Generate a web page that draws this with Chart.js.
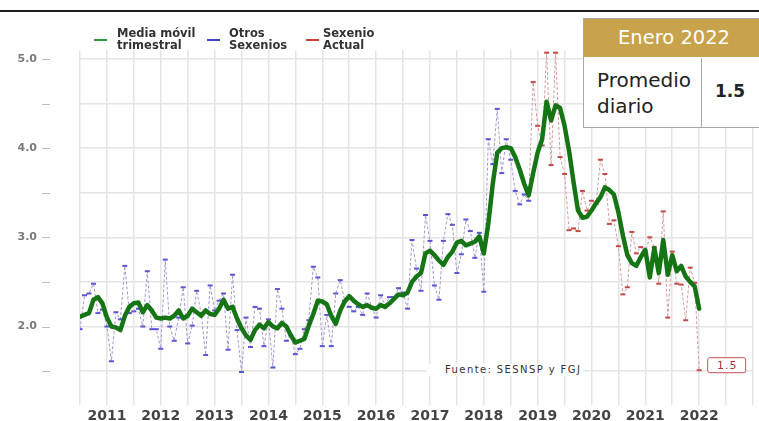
<!DOCTYPE html>
<html>
<head>
  <meta charset="UTF-8" />
  <title>Promedio diario</title>
  <script src="https://cdn.jsdelivr.net/npm/chart.js"></script>
  <style>
    body { margin: 0; background: #fff; font-family: "DejaVu Sans", sans-serif; }
    #wrap { position: relative; width: 759px; height: 421px; overflow: hidden; }
    .topline { position: absolute; left: 0; top: 10px; width: 759px; height: 2px; background: #1e1e1e; }
    .leg { position: absolute; top: 27px; font-weight: bold; font-size: 11.5px; line-height: 12px; color: #333; }
    .sw { position: absolute; top: 39px; width: 13px; height: 2px; }
    .box { position: absolute; left: 583px; top: 18px; width: 200px; height: 108px; border: 1px solid #a8a8a8; background: #fff; }
    .box .head { height: 38px; background: #c9a24c; color: #fff; font-size: 19.5px; line-height: 38px; padding-left: 34px; }
    .box .lab { position: absolute; left: 0; top: 39px; width: 118px; height: 69px; border-right: 1px solid #a8a8a8;
                font-size: 20px; line-height: 26px; color: #222; padding: 9px 0 0 13px; box-sizing: border-box; }
    .box .val { position: absolute; left: 131px; top: 62px; font-size: 17px; font-weight: bold; color: #222; }
    .fuente { position: absolute; left: 427px; top: 364px; width: 156px; height: 12px; background: #fff;
              font-size: 10px; line-height: 12px; color: #333; padding-left: 18px; box-sizing: border-box; letter-spacing: 1.4px; }
  </style>
</head>
<body>
<div id="wrap">
  <canvas id="chart" width="759" height="421"></canvas>
  <div class="topline"></div>

  <!-- legend -->
  <div class="sw" style="left:94px;background:#2f9a35"></div>
  <div class="leg" style="left:117px">Media móvil<br>trimestral</div>
  <div class="sw" style="left:207px;background:#3a45c8"></div>
  <div class="leg" style="left:229px">Otros<br>Sexenios</div>
  <div class="sw" style="left:306px;background:#d03a3a"></div>
  <div class="leg" style="left:323px">Sexenio<br>Actual</div>

  <!-- recuadro -->
  <div class="box">
    <div class="head">Enero 2022</div>
    <div class="lab">Promedio<br>diario</div>
    <div class="val">1.5</div>
  </div>

  <div class="fuente">Fuente: SESNSP y FGJ</div>
</div>

<script>
// meses desde julio 2010 (indice 0) hasta enero 2022 (indice 138)
const years = ['2011', '2012', '2013', '2014', '2015', '2016', '2017', '2018', '2019', '2020', '2021', '2022'];
const sexenioStart = 101; // diciembre 2018

const promedioDiario = [
  1.97, 2.35, 2.37, 2.48, 2.15, 2.19, 2.00, 1.61, 2.16, 2.08, 2.68, 2.15,
  2.17, 2.20, 2.00, 2.62, 1.97, 1.97, 1.75, 2.75, 2.00, 1.84, 2.10, 2.44,
  1.81, 2.01, 2.40, 2.15, 1.68, 2.46, 2.18, 2.29, 2.37, 1.74, 2.58, 1.96,
  1.49, 2.10, 1.77, 2.22, 2.20, 1.78, 2.08, 1.54, 2.42, 2.20, 1.84, 1.90,
  1.69, 1.75, 1.97, 2.07, 2.67, 2.55, 1.78, 2.13, 1.78, 2.37, 2.52, 2.29,
  2.22, 2.17, 2.22, 2.13, 2.37, 2.22, 2.10, 2.35, 2.24, 2.33, 2.33, 2.43,
  2.38, 2.20, 2.97, 2.65, 2.40, 3.25, 2.96, 2.46, 2.30, 2.96, 3.26, 3.14,
  2.60, 2.81, 3.20, 3.07, 2.77, 3.05, 2.39, 4.10, 3.82, 4.44, 3.72, 4.10,
  3.87, 3.52, 3.37, 3.48, 3.41, 4.74, 4.25, 4.03, 5.07, 3.81, 5.07, 3.90,
  3.71, 3.08, 3.10, 3.07, 3.52, 3.30, 3.41, 3.37, 3.87, 3.71, 3.15, 3.19,
  2.90, 2.36, 2.44, 3.06, 2.82, 2.89, 2.83, 3.00, 2.89, 2.48, 3.29, 2.10,
  2.84, 2.48, 2.47, 2.07, 2.66, 2.49, 1.51
];

const mediaMovil = [
  2.11, 2.13, 2.15, 2.30, 2.33, 2.26, 2.10, 2.00, 1.99, 1.96, 2.12, 2.22,
  2.26, 2.27, 2.16, 2.24, 2.18, 2.10, 2.09, 2.10, 2.09, 2.12, 2.18, 2.09,
  2.12, 2.20, 2.16, 2.12, 2.18, 2.14, 2.13, 2.20, 2.30, 2.20, 2.22, 2.09,
  1.98, 1.90, 1.85, 1.96, 2.02, 1.98, 2.05, 2.00, 1.98, 2.04, 2.00, 1.90,
  1.82, 1.84, 1.86, 2.01, 2.14, 2.29, 2.28, 2.25, 2.12, 2.03, 2.18, 2.28,
  2.34, 2.29, 2.25, 2.22, 2.24, 2.21, 2.20, 2.24, 2.22, 2.26, 2.31, 2.36,
  2.35, 2.38, 2.50, 2.56, 2.60, 2.82, 2.85, 2.80, 2.74, 2.69, 2.78, 2.84,
  2.94, 2.96, 2.91, 2.93, 2.95, 3.01, 2.82, 3.15, 3.60, 3.95, 4.00, 4.01,
  4.00, 3.90, 3.76, 3.60, 3.47, 3.72, 3.95, 4.10, 4.52, 4.31, 4.48, 4.45,
  4.25, 3.97, 3.62, 3.30, 3.22, 3.23, 3.30, 3.38, 3.45, 3.56, 3.53, 3.48,
  3.28, 3.02, 2.80, 2.71, 2.68, 2.78, 2.86, 2.55, 2.88, 2.60, 2.97, 2.58,
  2.80, 2.62, 2.68, 2.56, 2.50, 2.45, 2.20
];

const toPoints = (arr, from, to) => arr.slice(from, to).map((v, i) => ({ x: from + i, y: v }));

// marcas cortas del eje y, separadas del area del grafico como en el original
const yTickMarks = {
  id: 'yTickMarks',
  afterDraw(chart) {
    const { ctx, scales: { y } } = chart;
    ctx.save();
    ctx.strokeStyle = '#bdbdbd';
    ctx.lineWidth = 1;
    y.ticks.forEach(t => {
      const py = Math.round(y.getPixelForValue(t.value)) + 0.5;
      ctx.beginPath();
      ctx.moveTo(42, py);
      ctx.lineTo(50, py);
      ctx.stroke();
    });
    ctx.restore();
  }
};

// etiqueta del ultimo valor
const lastLabel = {
  id: 'lastLabel',
  afterDatasetsDraw(chart) {
    const meta = chart.getDatasetMeta(2);
    const pt = meta.data[meta.data.length - 1];
    const txt = promedioDiario[promedioDiario.length - 1].toFixed(1);
    const { ctx } = chart;
    ctx.save();
    const bx = pt.x + 8, by = pt.y - 13, bw = 38, bh = 15;
    ctx.fillStyle = '#fff';
    ctx.strokeStyle = '#c45252';
    ctx.lineWidth = 1;
    ctx.beginPath();
    ctx.roundRect(bx + 0.5, by + 0.5, bw, bh, 2);
    ctx.fill();
    ctx.stroke();
    ctx.fillStyle = '#b03434';
    ctx.font = '11px "DejaVu Sans"';
    ctx.letterSpacing = '1px';
    ctx.textAlign = 'center';
    ctx.textBaseline = 'middle';
    ctx.fillText(txt, bx + bw / 2 + 1, by + bh / 2 + 1);
    ctx.restore();
  }
};

const ctx = document.getElementById('chart').getContext('2d');
new Chart(ctx, {
  type: 'line',
  data: {
    datasets: [
      {
        label: 'Media móvil trimestral',
        data: toPoints(mediaMovil, 0, mediaMovil.length),
        borderColor: '#157515',
        borderWidth: 4.5,
        pointRadius: 0,
        borderJoinStyle: 'round',
        borderCapStyle: 'round'
      },
      {
        label: 'Otros Sexenios',
        data: toPoints(promedioDiario, 0, sexenioStart),
        borderColor: '#a497cf',
        borderWidth: 1,
        borderDash: [3, 2],
        pointStyle: 'line',
        pointRadius: 2.5,
        pointBorderWidth: 2,
        pointBorderColor: '#5b55d4'
      },
      {
        label: 'Sexenio Actual',
        data: toPoints(promedioDiario, sexenioStart - 1, promedioDiario.length),
        borderColor: '#d49b9b',
        borderWidth: 1,
        borderDash: [3, 2],
        pointStyle: 'line',
        pointRadius: c => (c.dataIndex === 0 ? 0 : 2.5),
        pointBorderWidth: 2,
        pointBorderColor: '#c44a4a'
      }
    ]
  },
  options: {
    responsive: false,
    animation: false,
    layout: { padding: { top: 50, right: 6, left: 0, bottom: 0 } },
    plugins: { legend: { display: false }, tooltip: { enabled: false } },
    scales: {
      x: {
        type: 'linear',
        min: 0,
        max: 150,
        afterFit: s => { s.height = 16; },
        border: { display: false },
        grid: { color: '#e4e4e4', lineWidth: 1.5, drawTicks: false },
        ticks: {
          stepSize: 6,
          autoSkip: false,
          maxRotation: 0,
          padding: 3,
          color: '#444',
          font: { family: 'DejaVu Sans', size: 14, weight: 'bold' },
          callback: v => {
            const k = (v - 6) / 12;
            return Number.isInteger(k) && years[k] ? years[k] : '';
          }
        }
      },
      y: {
        min: 1.12,
        max: 5.1,
        afterFit: s => { s.width = 80; },
        border: { display: false },
        grid: { color: '#e4e4e4', lineWidth: 1.5, drawTicks: true, tickLength: 40, tickColor: 'rgba(0,0,0,0)' },
        ticks: {
          stepSize: 0.5,
          includeBounds: false,
          padding: 3,
          color: '#7a7a7a',
          font: { family: 'DejaVu Sans', size: 11, weight: 'bold' },
          callback: v => (v % 1 === 0 ? v.toFixed(1) : '')
        }
      }
    }
  },
  plugins: [yTickMarks, lastLabel]
});
</script>
</body>
</html>
